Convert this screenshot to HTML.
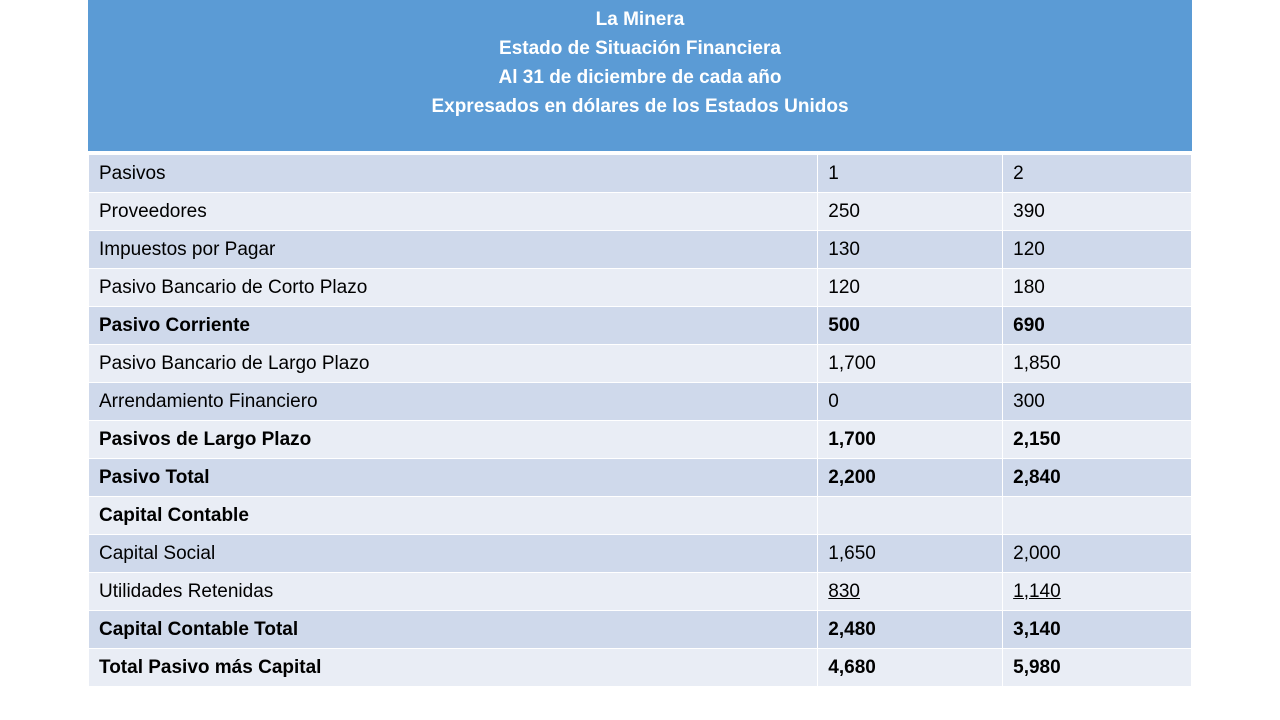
<!DOCTYPE html>
<html><head><meta charset="utf-8"><style>
body{margin:0;width:1280px;height:720px;background:#fff;position:relative;font-family:"Liberation Sans",sans-serif;overflow:hidden}
#hdr{position:absolute;left:88px;top:0;width:1104px;height:151px;background:#5B9BD5;color:#fff;font-weight:bold;font-size:19px;text-align:center;line-height:29px;padding-top:5px;box-sizing:border-box}
table{position:absolute;left:88px;top:154px;border-collapse:collapse;width:1104px}
td{height:38px;padding:0 0 0 10px;font-size:19px;color:#000;border:1px solid #fff;box-sizing:border-box}
tr:nth-child(odd) td{background:#CFD9EB}
tr:nth-child(even) td{background:#E9EDF5}
td.a{width:730px}td.b{width:185px}td.c{width:189px}
tr.bold td{font-weight:bold}
u{text-decoration:underline}
</style></head><body>
<div id="hdr">La Minera<br>Estado de Situación Financiera<br>Al 31 de diciembre de cada año<br>Expresados en dólares de los Estados Unidos</div>
<table>
<tr><td class="a">Pasivos</td><td class="b">1</td><td class="c">2</td></tr>
<tr><td class="a">Proveedores</td><td class="b">250</td><td class="c">390</td></tr>
<tr><td class="a">Impuestos por Pagar</td><td class="b">130</td><td class="c">120</td></tr>
<tr><td class="a">Pasivo Bancario de Corto Plazo</td><td class="b">120</td><td class="c">180</td></tr>
<tr class="bold"><td class="a">Pasivo Corriente</td><td class="b">500</td><td class="c">690</td></tr>
<tr><td class="a">Pasivo Bancario de Largo Plazo</td><td class="b">1,700</td><td class="c">1,850</td></tr>
<tr><td class="a">Arrendamiento Financiero</td><td class="b">0</td><td class="c">300</td></tr>
<tr class="bold"><td class="a">Pasivos de Largo Plazo</td><td class="b">1,700</td><td class="c">2,150</td></tr>
<tr class="bold"><td class="a">Pasivo Total</td><td class="b">2,200</td><td class="c">2,840</td></tr>
<tr class="bold"><td class="a">Capital Contable</td><td class="b"></td><td class="c"></td></tr>
<tr><td class="a">Capital Social</td><td class="b">1,650</td><td class="c">2,000</td></tr>
<tr><td class="a">Utilidades Retenidas</td><td class="b"><u>830</u></td><td class="c"><u>1,140</u></td></tr>
<tr class="bold"><td class="a">Capital Contable Total</td><td class="b">2,480</td><td class="c">3,140</td></tr>
<tr class="bold"><td class="a">Total Pasivo más Capital</td><td class="b">4,680</td><td class="c">5,980</td></tr>
</table>
</body></html>
